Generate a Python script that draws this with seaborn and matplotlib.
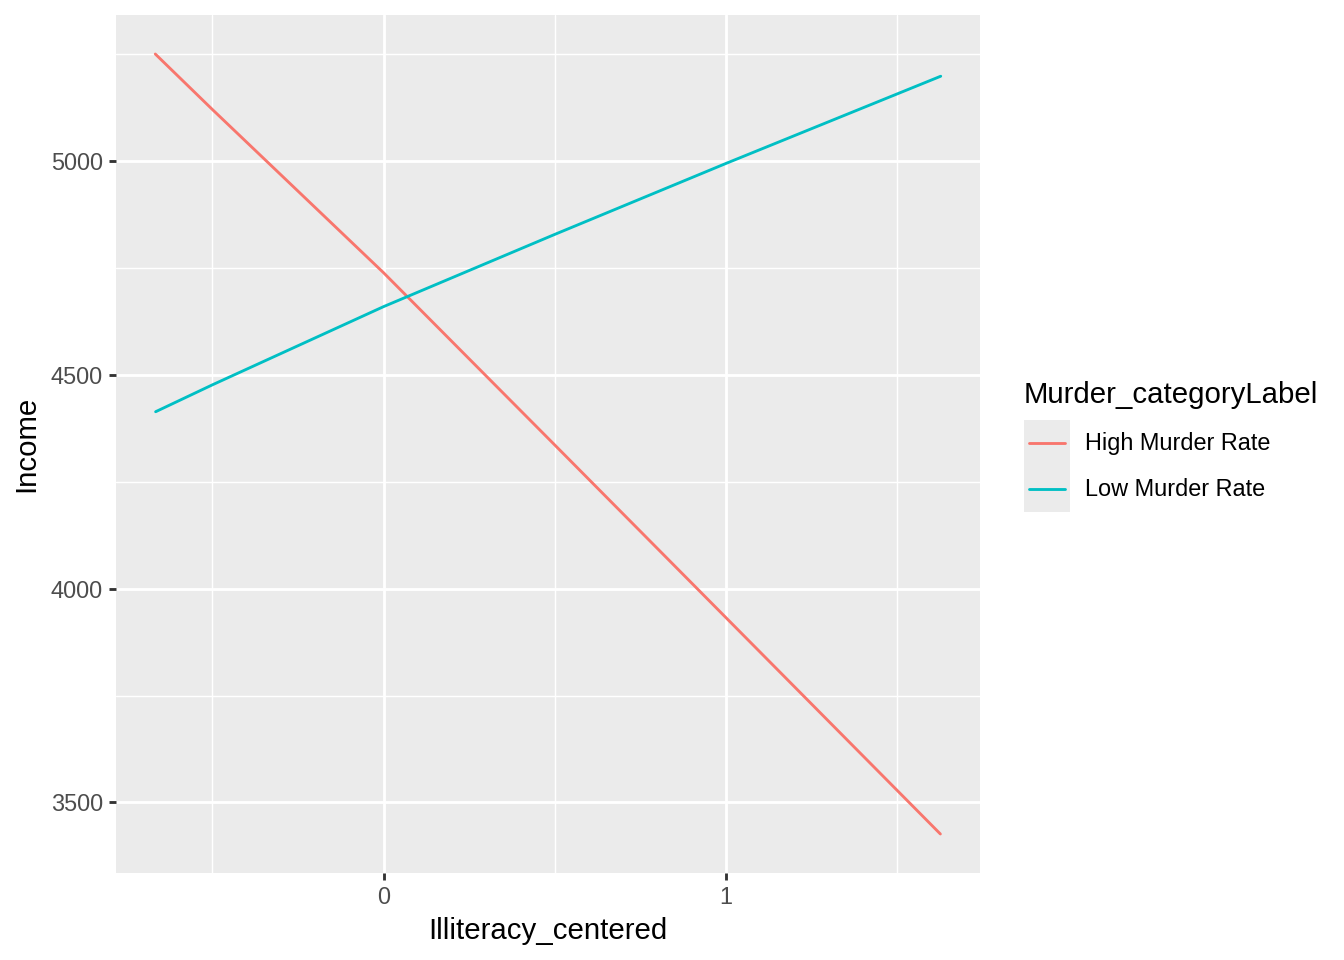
import pandas as pd
import numpy as np
import matplotlib
matplotlib.use("Agg")
import matplotlib.pyplot as plt
import seaborn as sns
from matplotlib.legend_handler import HandlerBase
from matplotlib.patches import Rectangle
from matplotlib.lines import Line2D

# ==========================================
# Data (predicted lines)
# ==========================================
high_x = [-0.667, -0.5, 0.0, 0.5, 1.0, 1.626]
high_income = [5251, 5121, 4739, 4336, 3932, 3426]

low_x = [-0.666, -0.5, 0.0, 0.5, 1.0, 1.627]
low_income = [4414, 4477, 4660, 4829, 4995, 5199]

labels = ["High Murder Rate", "Low Murder Rate"]

x_ticks = [0, 1]
y_ticks = [3500, 4000, 4500, 5000]
x_minor = [-0.5, 0.5, 1.5]
y_minor = [3750, 4250, 4750, 5250]

colors = {"High Murder Rate": "#F8766D", "Low Murder Rate": "#00BFC4"}

df = pd.DataFrame({
    "Illiteracy_centered": high_x + low_x,
    "Income": high_income + low_income,
    "Murder_categoryLabel": [labels[0]] * len(high_x) + [labels[1]] * len(low_x),
})

# ==========================================
# Plot
# ==========================================
sns.set_style("white")
plt.rcParams['font.family'] = ['Liberation Sans', 'DejaVu Sans']

fig = plt.figure(figsize=(7, 5), dpi=192)
ax = fig.add_axes([116/1344, 1-873/960, (980-116)/1344, (873-15)/960])

sns.lineplot(data=df, x="Illiteracy_centered", y="Income",
             hue="Murder_categoryLabel", palette=colors,
             linewidth=1.07, ax=ax, legend=False, zorder=3)

# ggplot-like panel
ax.set_facecolor("#EBEBEB")
for s in ax.spines.values():
    s.set_visible(False)

xs = df["Illiteracy_centered"]
ys = df["Income"]
ax.set_xlim(xs.min() - 0.05*(xs.max()-xs.min()), xs.max() + 0.05*(xs.max()-xs.min()))
ax.set_ylim(ys.min() - 0.05*(ys.max()-ys.min()), ys.max() + 0.05*(ys.max()-ys.min()))

ax.set_xticks(x_ticks)
ax.set_yticks(y_ticks)
ax.set_xticks(x_minor, minor=True)
ax.set_yticks(y_minor, minor=True)
ax.grid(which="major", color="white", linewidth=1.07)
ax.grid(which="minor", color="white", linewidth=0.53)
ax.set_axisbelow(True)
ax.tick_params(which="major", left=True, bottom=True, length=2.75, width=1.07,
               color="#333333", labelcolor="#4D4D4D", labelsize=8.8, pad=2.2)
ax.tick_params(which="minor", length=0)

ax.set_xlabel("Illiteracy_centered", fontsize=11, color="black", labelpad=2.75)
ax.set_ylabel("Income", fontsize=11, color="black", labelpad=4)


# legend with grey key boxes like ggplot
class KeyHandler(HandlerBase):
    def create_artists(self, legend, orig_handle, xdescent, ydescent,
                       width, height, fontsize, trans):
        rect = Rectangle((-xdescent, -ydescent), width, height,
                         facecolor="#EBEBEB", edgecolor="none", transform=trans)
        line = Line2D([-xdescent + 0.1*width, -xdescent + 0.9*width],
                      [-ydescent + height/2]*2, color=orig_handle.get_color(),
                      linewidth=orig_handle.get_linewidth(), transform=trans)
        return [rect, line]


handles = [Line2D([], [], color=colors[g], linewidth=1.07) for g in labels]
leg = fig.legend(handles, labels, title="Murder_categoryLabel",
                 loc="lower left", bbox_to_anchor=(1024/1344, 1-512/960),
                 frameon=False, fontsize=8.8, title_fontsize=11,
                 handlelength=1.96, handleheight=2.64, labelspacing=0,
                 handletextpad=0.62, borderpad=0, borderaxespad=0,
                 alignment="left", labelcolor="black",
                 handler_map={Line2D: KeyHandler()})
leg.get_title().set_color("black")
leg._legend_box.sep = 4

plt.savefig("out.png", dpi=192)
